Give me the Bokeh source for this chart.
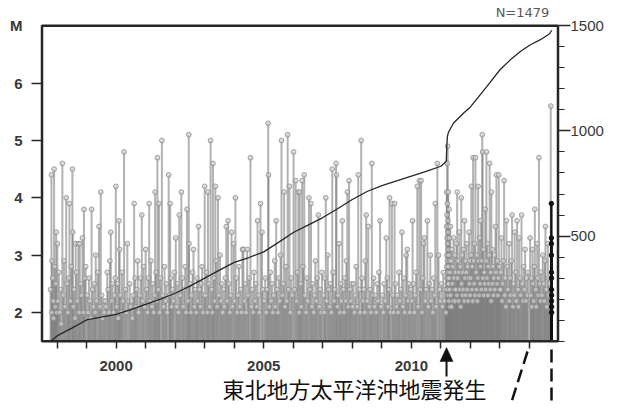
from bokeh.plotting import figure
from bokeh.models import Range1d, LinearAxis, FixedTicker, Label, ColumnDataSource
from bokeh.embed import file_html
from bokeh.resources import INLINE

# ---------------- data ----------------
year_ticks = [2000, 2005, 2010]
year_minor = list(range(1998, 2015))
mag_ticks = [2, 3, 4, 5, 6]
count_ticks = [500, 1000, 1500]
count_minor = list(range(0, 1501, 100))
total_n = 1479
quake_t = 2011.19
quake_text = "東北地方太平洋沖地震発生"

# cumulative number of events (right axis)
cum_t = [1997.78, 1998.0, 1998.5, 1999.0, 1999.5, 2000.0, 2000.5, 2001.0, 2001.5, 2002.0,
         2002.5, 2003.0, 2003.5, 2004.0, 2004.5, 2005.0, 2005.5, 2006.0, 2006.5, 2007.0,
         2007.5, 2008.0, 2008.5, 2009.0, 2009.5, 2010.0, 2010.5, 2011.0, 2011.18, 2011.20,
         2011.22, 2011.26, 2011.43, 2011.77, 2012.0, 2012.56, 2013.0, 2013.35, 2013.69,
         2014.03, 2014.37, 2014.68, 2014.75]
cum_n = [0, 25, 62, 101, 115, 128, 150, 175, 200, 228,
         262, 300, 338, 375, 398, 425, 470, 517, 552, 588,
         630, 674, 712, 740, 762, 785, 808, 832, 856, 930,
         975, 995, 1038, 1085, 1114, 1212, 1291, 1338, 1378,
         1410, 1434, 1462, 1479]

# events (decimal year, magnitude)
ev_1997 = [(1997.78, 2.4), (1997.81, 4.4), (1997.82, 2.0), (1997.83, 2.9), (1997.85, 2.6),
           (1997.87, 2.2), (1997.88, 1.9), (1997.90, 4.5), (1997.92, 2.8), (1997.94, 2.1),
           (1997.96, 2.5), (1997.97, 3.4), (1997.99, 2.0)]
ev_1998 = [(1998.01, 3.2), (1998.03, 2.2), (1998.06, 2.7), (1998.09, 2.0), (1998.12, 2.4),
           (1998.14, 1.8), (1998.18, 4.6), (1998.21, 2.3), (1998.24, 2.9), (1998.27, 2.1),
           (1998.31, 4.0), (1998.34, 2.5), (1998.37, 2.0), (1998.40, 2.6), (1998.42, 3.9),
           (1998.45, 2.2), (1998.48, 2.8), (1998.52, 4.5), (1998.53, 3.4), (1998.55, 2.1),
           (1998.58, 2.4), (1998.61, 1.9), (1998.63, 3.2), (1998.66, 2.7), (1998.69, 2.2),
           (1998.72, 3.2), (1998.75, 2.0), (1998.77, 3.2), (1998.80, 2.5), (1998.83, 2.3),
           (1998.86, 3.3), (1998.89, 2.0), (1998.91, 3.8), (1998.94, 2.6), (1998.97, 2.8)]
ev_1999 = [(1999.02, 2.3), (1999.05, 2.0), (1999.08, 2.6), (1999.11, 2.2), (1999.14, 1.9),
           (1999.17, 3.8), (1999.20, 2.4), (1999.23, 2.1), (1999.26, 2.5), (1999.29, 2.0),
           (1999.31, 3.0), (1999.34, 2.2), (1999.38, 2.7), (1999.42, 3.5), (1999.45, 2.1),
           (1999.48, 4.1), (1999.51, 2.3), (1999.54, 1.9), (1999.57, 2.2), (1999.60, 2.0),
           (1999.63, 2.2), (1999.66, 2.1), (1999.70, 2.7), (1999.73, 2.4), (1999.76, 2.0),
           (1999.79, 2.9), (1999.82, 3.4), (1999.85, 2.2), (1999.88, 2.5), (1999.91, 2.0),
           (1999.94, 2.3), (1999.97, 2.6), (1999.99, 4.2)]
ev_2000 = [(2000.02, 2.1), (2000.05, 2.5), (2000.07, 1.9), (2000.10, 3.6), (2000.12, 3.1),
           (2000.14, 2.3), (2000.17, 2.0), (2000.20, 2.7), (2000.23, 2.2), (2000.27, 4.8),
           (2000.31, 2.4), (2000.34, 2.0), (2000.38, 3.2), (2000.42, 2.2), (2000.46, 2.5),
           (2000.49, 2.1), (2000.52, 2.2), (2000.55, 1.9), (2000.58, 2.3), (2000.61, 3.9),
           (2000.64, 2.6), (2000.67, 2.1), (2000.70, 2.4), (2000.73, 2.9), (2000.76, 2.0),
           (2000.80, 2.3), (2000.83, 2.6), (2000.87, 3.7), (2000.90, 2.2), (2000.93, 2.8),
           (2000.96, 2.1)]
ev_2001 = [(2001.00, 3.1), (2001.03, 2.4), (2001.06, 2.0), (2001.09, 2.6), (2001.12, 3.9),
           (2001.15, 2.2), (2001.18, 2.9), (2001.21, 2.1), (2001.24, 2.5), (2001.27, 2.0),
           (2001.30, 2.3), (2001.32, 4.1), (2001.35, 2.7), (2001.37, 2.2), (2001.40, 4.7),
           (2001.43, 2.4), (2001.45, 3.9), (2001.47, 2.0), (2001.50, 2.6), (2001.55, 5.0),
           (2001.58, 2.3), (2001.61, 2.1), (2001.64, 2.8), (2001.67, 2.2), (2001.70, 2.5),
           (2001.73, 2.0), (2001.78, 4.4), (2001.81, 2.3), (2001.83, 3.9), (2001.85, 2.6),
           (2001.88, 2.1), (2001.91, 2.4), (2001.94, 2.2), (2001.97, 2.7)]
ev_2002 = [(2002.02, 3.3), (2002.05, 2.1), (2002.08, 2.5), (2002.11, 2.0), (2002.14, 3.7),
           (2002.17, 2.3), (2002.21, 4.1), (2002.24, 2.6), (2002.27, 2.1), (2002.30, 2.4),
           (2002.34, 2.8), (2002.37, 2.0), (2002.40, 3.8), (2002.43, 2.2), (2002.46, 5.1),
           (2002.47, 3.2), (2002.50, 2.5), (2002.53, 2.0), (2002.56, 2.3), (2002.59, 2.7),
           (2002.62, 3.1), (2002.65, 2.1), (2002.68, 2.4), (2002.71, 2.0), (2002.74, 2.6),
           (2002.76, 2.2), (2002.79, 3.5), (2002.82, 2.4), (2002.85, 2.1), (2002.88, 2.5),
           (2002.91, 2.8), (2002.94, 2.0), (2002.97, 2.3)]
ev_2003 = [(2003.00, 4.2), (2003.03, 2.3), (2003.06, 2.7), (2003.09, 2.0), (2003.11, 4.1),
           (2003.14, 2.5), (2003.17, 2.1), (2003.20, 5.0), (2003.23, 2.4), (2003.26, 2.0),
           (2003.28, 4.6), (2003.31, 2.6), (2003.33, 2.2), (2003.36, 4.2), (2003.39, 2.9),
           (2003.42, 2.1), (2003.45, 4.0), (2003.48, 2.3), (2003.52, 3.0), (2003.55, 2.2),
           (2003.58, 2.5), (2003.61, 2.0), (2003.64, 2.4), (2003.67, 2.1), (2003.70, 2.6),
           (2003.73, 3.5), (2003.76, 2.2), (2003.79, 3.6), (2003.82, 2.5), (2003.85, 2.0),
           (2003.88, 2.3), (2003.91, 3.4), (2003.94, 2.1), (2003.98, 3.2)]
ev_2004 = [(2004.01, 2.2), (2004.04, 4.0), (2004.07, 2.6), (2004.10, 2.0), (2004.13, 2.3),
           (2004.16, 2.8), (2004.19, 2.1), (2004.22, 2.4), (2004.25, 2.0), (2004.28, 3.1),
           (2004.31, 3.1), (2004.34, 2.2), (2004.37, 2.5), (2004.40, 2.0), (2004.44, 3.1),
           (2004.47, 2.3), (2004.50, 2.6), (2004.55, 4.7), (2004.58, 2.1), (2004.61, 2.4),
           (2004.64, 2.0), (2004.67, 2.7), (2004.70, 2.2), (2004.73, 2.5), (2004.76, 2.1),
           (2004.79, 3.6), (2004.82, 2.3), (2004.85, 2.0), (2004.89, 3.9), (2004.94, 3.4),
           (2004.97, 2.4)]
ev_2005 = [(2005.02, 2.2), (2005.05, 2.6), (2005.08, 2.0), (2005.11, 2.4), (2005.15, 5.3),
           (2005.16, 4.4), (2005.19, 2.1), (2005.22, 2.7), (2005.25, 2.2), (2005.28, 2.5),
           (2005.31, 2.0), (2005.34, 2.3), (2005.37, 2.9), (2005.39, 2.1), (2005.42, 3.6),
           (2005.45, 2.4), (2005.48, 2.0), (2005.51, 2.6), (2005.54, 2.2), (2005.57, 3.0),
           (2005.60, 5.0), (2005.63, 2.3), (2005.66, 2.5), (2005.69, 4.1), (2005.72, 2.1),
           (2005.75, 2.8), (2005.78, 2.2), (2005.81, 5.1), (2005.84, 2.4), (2005.87, 4.2),
           (2005.90, 2.0), (2005.93, 2.6), (2005.96, 2.3)]
ev_2006 = [(2006.01, 4.8), (2006.04, 2.4), (2006.08, 4.3), (2006.11, 2.2), (2006.14, 2.7),
           (2006.17, 4.1), (2006.20, 2.0), (2006.22, 4.1), (2006.25, 2.5), (2006.27, 2.1),
           (2006.30, 4.3), (2006.33, 2.8), (2006.37, 4.4), (2006.40, 2.3), (2006.43, 2.0),
           (2006.46, 2.6), (2006.49, 2.2), (2006.53, 4.0), (2006.56, 2.4), (2006.60, 3.9),
           (2006.63, 2.1), (2006.66, 2.5), (2006.69, 2.0), (2006.72, 2.3), (2006.75, 2.9),
           (2006.78, 2.2), (2006.81, 2.6), (2006.85, 3.7), (2006.88, 2.1), (2006.91, 2.4),
           (2006.94, 2.0), (2006.97, 2.7)]
ev_2007 = [(2007.02, 2.3), (2007.05, 2.0), (2007.07, 2.6), (2007.10, 4.0), (2007.13, 2.2),
           (2007.17, 3.0), (2007.20, 2.4), (2007.23, 2.1), (2007.26, 2.5), (2007.29, 2.0),
           (2007.32, 4.5), (2007.35, 2.7), (2007.38, 2.2), (2007.41, 2.4), (2007.45, 4.6),
           (2007.46, 4.4), (2007.49, 2.1), (2007.52, 2.3), (2007.55, 3.2), (2007.58, 2.0),
           (2007.61, 2.5), (2007.63, 2.2), (2007.66, 3.6), (2007.69, 2.4), (2007.72, 2.0),
           (2007.75, 2.6), (2007.78, 2.2), (2007.80, 2.9), (2007.83, 4.1), (2007.86, 2.1),
           (2007.89, 4.3), (2007.92, 2.4), (2007.95, 2.2), (2007.98, 2.5)]
ev_2008 = [(2008.01, 2.1), (2008.04, 2.5), (2008.07, 2.0), (2008.10, 2.3), (2008.13, 2.8),
           (2008.16, 2.1), (2008.20, 4.4), (2008.23, 2.4), (2008.26, 2.0), (2008.30, 5.0),
           (2008.33, 2.6), (2008.36, 2.2), (2008.39, 2.4), (2008.42, 2.0), (2008.44, 2.9),
           (2008.47, 3.7), (2008.50, 2.2), (2008.54, 3.5), (2008.57, 2.1), (2008.60, 2.4),
           (2008.63, 2.0), (2008.66, 4.6), (2008.69, 2.3), (2008.72, 2.6), (2008.75, 2.1),
           (2008.78, 2.3), (2008.81, 2.0), (2008.84, 2.5), (2008.87, 2.2), (2008.90, 2.7),
           (2008.94, 3.6), (2008.97, 2.1)]
ev_2009 = [(2009.02, 2.3), (2009.05, 2.0), (2009.08, 2.5), (2009.11, 2.2), (2009.15, 3.3),
           (2009.18, 2.6), (2009.21, 2.1), (2009.24, 2.4), (2009.26, 4.0), (2009.29, 2.0),
           (2009.34, 3.9), (2009.37, 2.3), (2009.40, 2.0), (2009.43, 3.9), (2009.46, 2.5),
           (2009.49, 2.1), (2009.52, 2.3), (2009.55, 2.0), (2009.58, 2.7), (2009.61, 2.2),
           (2009.64, 2.4), (2009.68, 3.4), (2009.71, 2.1), (2009.74, 2.6), (2009.77, 2.0),
           (2009.80, 2.3), (2009.82, 3.0), (2009.86, 3.1), (2009.89, 2.2), (2009.92, 2.5),
           (2009.95, 2.0), (2009.98, 2.4)]
ev_2010 = [(2010.01, 2.2), (2010.04, 3.6), (2010.07, 2.5), (2010.10, 2.0), (2010.13, 2.3),
           (2010.16, 2.7), (2010.20, 4.2), (2010.23, 2.1), (2010.27, 4.3), (2010.30, 2.4),
           (2010.33, 4.3), (2010.36, 2.0), (2010.38, 2.6), (2010.41, 3.2), (2010.44, 3.3),
           (2010.47, 2.2), (2010.50, 2.4), (2010.54, 3.6), (2010.57, 2.1), (2010.60, 2.5),
           (2010.64, 3.0), (2010.67, 2.2), (2010.70, 2.4), (2010.73, 2.0), (2010.76, 2.6),
           (2010.79, 2.3), (2010.81, 3.9), (2010.84, 2.1), (2010.88, 4.6), (2010.92, 3.0),
           (2010.95, 2.4), (2010.98, 2.2)]
ev_2011 = [(2011.02, 2.5), (2011.05, 2.1), (2011.08, 2.7), (2011.11, 2.2), (2011.14, 2.4),
           (2011.17, 2.0), (2011.190, 3.5), (2011.193, 2.8), (2011.196, 4.1), (2011.199, 3.0),
           (2011.202, 2.6), (2011.205, 3.7), (2011.208, 2.4), (2011.211, 3.3), (2011.214, 4.6),
           (2011.217, 2.9), (2011.220, 3.9), (2011.223, 2.5), (2011.226, 3.2), (2011.229, 4.9),
           (2011.232, 2.7), (2011.235, 3.4), (2011.238, 2.6), (2011.241, 3.6), (2011.244, 2.3),
           (2011.247, 3.1), (2011.250, 4.1), (2011.254, 2.8), (2011.258, 3.5), (2011.262, 2.5),
           (2011.266, 3.0), (2011.270, 2.2), (2011.275, 3.8), (2011.280, 2.6), (2011.285, 3.3),
           (2011.290, 2.4), (2011.295, 2.9), (2011.300, 2.1), (2011.31, 2.7), (2011.32, 3.5),
           (2011.33, 2.3), (2011.345, 2.9), (2011.36, 2.1), (2011.37, 3.1), (2011.385, 2.5),
           (2011.40, 2.8), (2011.41, 2.2), (2011.43, 3.3), (2011.44, 2.6), (2011.455, 2.4),
           (2011.47, 3.0), (2011.48, 2.2), (2011.495, 2.7), (2011.51, 2.4), (2011.525, 3.2),
           (2011.54, 2.3), (2011.55, 4.1), (2011.565, 2.6), (2011.58, 2.9), (2011.595, 2.2),
           (2011.61, 2.7), (2011.625, 3.4), (2011.64, 2.4), (2011.655, 2.8), (2011.67, 2.1),
           (2011.69, 4.0), (2011.70, 2.5), (2011.715, 3.0), (2011.73, 2.3), (2011.745, 2.7),
           (2011.76, 2.4), (2011.775, 3.1), (2011.79, 2.2), (2011.80, 3.6), (2011.815, 2.6),
           (2011.83, 2.9), (2011.845, 2.3), (2011.86, 2.7), (2011.875, 3.2), (2011.89, 2.4),
           (2011.905, 2.8), (2011.92, 2.2), (2011.935, 2.6), (2011.95, 3.4), (2011.965, 2.5),
           (2011.98, 2.9), (2011.99, 2.3)]
ev_2012 = [(2012.01, 2.6), (2012.02, 3.0), (2012.03, 4.2), (2012.05, 2.4), (2012.06, 2.8),
           (2012.075, 2.2), (2012.09, 4.7), (2012.11, 2.9), (2012.125, 2.5), (2012.14, 3.2),
           (2012.155, 2.3), (2012.17, 4.7), (2012.19, 2.7), (2012.205, 2.4), (2012.22, 3.0),
           (2012.235, 2.2), (2012.25, 2.6), (2012.26, 4.2), (2012.28, 2.9), (2012.295, 2.3),
           (2012.31, 3.3), (2012.325, 2.5), (2012.34, 2.8), (2012.35, 3.6), (2012.37, 2.4),
           (2012.385, 2.9), (2012.40, 5.1), (2012.41, 4.8), (2012.42, 2.6), (2012.435, 3.1),
           (2012.45, 2.3), (2012.465, 2.7), (2012.48, 2.5), (2012.50, 3.8), (2012.515, 2.4),
           (2012.53, 2.9), (2012.54, 4.8), (2012.56, 2.6), (2012.575, 3.2), (2012.59, 2.3),
           (2012.605, 2.8), (2012.62, 2.5), (2012.635, 3.0), (2012.65, 4.6), (2012.67, 2.4),
           (2012.685, 2.7), (2012.70, 2.2), (2012.71, 4.1), (2012.73, 3.1), (2012.745, 2.5),
           (2012.76, 2.8), (2012.775, 2.3), (2012.79, 2.6), (2012.81, 3.0), (2012.825, 2.4),
           (2012.85, 3.5), (2012.865, 2.7), (2012.88, 4.4), (2012.90, 2.5), (2012.915, 2.9),
           (2012.93, 2.3), (2012.945, 2.6), (2012.96, 4.4), (2012.975, 2.8), (2012.99, 2.4)]
ev_2013 = [(2013.01, 2.4), (2013.03, 2.7), (2013.05, 3.3), (2013.07, 2.2), (2013.09, 2.5),
           (2013.11, 2.9), (2013.14, 4.3), (2013.16, 2.3), (2013.18, 2.6), (2013.20, 2.1),
           (2013.22, 3.6), (2013.25, 2.8), (2013.27, 2.4), (2013.31, 3.2), (2013.32, 2.2),
           (2013.34, 2.6), (2013.36, 2.3), (2013.38, 2.9), (2013.41, 3.7), (2013.44, 2.1),
           (2013.46, 2.5), (2013.48, 2.3), (2013.50, 3.4), (2013.53, 2.7), (2013.55, 2.2),
           (2013.58, 3.6), (2013.61, 2.4), (2013.63, 2.1), (2013.65, 3.3), (2013.68, 2.6),
           (2013.70, 2.3), (2013.73, 3.7), (2013.76, 2.5), (2013.78, 2.2), (2013.80, 2.8),
           (2013.83, 2.4), (2013.85, 3.1), (2013.88, 2.2), (2013.90, 2.6), (2013.93, 2.3),
           (2013.95, 2.7)]
ev_2014 = [(2014.02, 3.3), (2014.04, 2.3), (2014.06, 2.6), (2014.08, 2.1), (2014.10, 3.1),
           (2014.12, 2.5), (2014.14, 2.2), (2014.16, 2.8), (2014.18, 3.8), (2014.21, 2.4),
           (2014.23, 2.1), (2014.26, 3.2), (2014.28, 2.6), (2014.30, 2.3), (2014.32, 4.7),
           (2014.35, 2.5), (2014.37, 2.2), (2014.39, 2.7), (2014.42, 2.3), (2014.45, 3.0),
           (2014.48, 2.5), (2014.50, 2.2), (2014.52, 2.9), (2014.54, 3.5), (2014.57, 2.4),
           (2014.59, 2.1), (2014.62, 3.2), (2014.64, 2.6), (2014.66, 2.3), (2014.68, 2.5),
           (2014.70, 2.2), (2014.72, 5.6)]
# most recent events (drawn in black)
latest_t = [2014.740, 2014.741, 2014.742, 2014.743, 2014.744, 2014.745,
            2014.746, 2014.747, 2014.748, 2014.749, 2014.750]
latest_m = [3.9, 3.3, 3.2, 3.0, 2.7, 2.6, 2.4, 2.3, 2.2, 2.1, 2.0]

events = (ev_1997 + ev_1998 + ev_1999 + ev_2000 + ev_2001 + ev_2002 + ev_2003 + ev_2004 +
          ev_2005 + ev_2006 + ev_2007 + ev_2008 + ev_2009 + ev_2010 + ev_2011 + ev_2012 +
          ev_2013 + ev_2014)
ev_t = [e[0] for e in events]
ev_m = [e[1] for e in events]

# ---------------- layout (canvas pixels) ----------------
W, H = 613, 402
FL, FR, FT, FB = 38, 561, 4, 402            # plotting frame
BL, BR, BT, BB = 41.5, 557.5, 25.3, 340.7   # drawn chart box
X0, X1 = 1997.49, 2014.965                  # time span of the box
Y0, Y1 = 1.5, 7.0                           # magnitude span of the box
N0, N1 = 0, 1500                            # count span of the box
AX = "#262626"
LBL = "#383838"

ppx = (BR - BL) / (X1 - X0)
ppy = (BB - BT) / (Y1 - Y0)
ppn = (BB - BT) / (N1 - N0)
x_lo, x_hi = X0 - (BL - FL) / ppx, X1 + (FR - BR) / ppx
y_lo, y_hi = Y0 - (FB - BB) / ppy, Y1 + (BT - FT) / ppy
n_lo, n_hi = N0 - (FB - BB) / ppn, N1 + (BT - FT) / ppn


def xd(px):
    return x_lo + (px - FL) / ppx


def yd(py):
    return y_hi - (py - FT) / ppy


p = figure(width=W, height=H, x_range=Range1d(x_lo, x_hi), y_range=Range1d(y_lo, y_hi),
           x_axis_location="above", output_backend="svg", toolbar_location=None,
           min_border_left=FL, min_border_right=W - FR,
           min_border_top=FT, min_border_bottom=H - FB)
p.xgrid.visible = False
p.ygrid.visible = False
p.outline_line_color = None
p.background_fill_color = "white"
p.border_fill_color = "white"

# time axis drawn at the bottom of the box (year ticks)
xa = p.xaxis[0]
xa.fixed_location = Y0
xa.ticker = FixedTicker(ticks=[], minor_ticks=year_minor)
xa.axis_line_color = None
xa.major_tick_out = 0
xa.major_tick_in = 0
xa.minor_tick_out = 0
xa.minor_tick_in = 7
xa.minor_tick_line_color = AX
xa.minor_tick_line_width = 1.5
xa.major_label_standoff = 0

# left magnitude axis ("M" as the label at the top)
ya = p.yaxis[0]
ya.ticker = FixedTicker(ticks=mag_ticks + [Y1], minor_ticks=mag_ticks)
ya.major_label_overrides = {Y1: "M"}
ya.axis_line_color = None
ya.major_tick_out = 0
ya.major_tick_in = 0
ya.minor_tick_out = 7
ya.minor_tick_in = 4
ya.minor_tick_line_color = AX
ya.minor_tick_line_width = 1.5
ya.major_label_standoff = 9
ya.major_label_text_font = "Liberation Sans"
ya.major_label_text_font_size = "15px"
ya.major_label_text_font_style = "bold"
ya.major_label_text_color = LBL

# right axis (cumulative count)
p.extra_y_ranges = {"n": Range1d(n_lo, n_hi)}
ra = LinearAxis(y_range_name="n", ticker=FixedTicker(ticks=count_ticks, minor_ticks=count_minor))
ra.axis_line_color = None
ra.major_tick_out = 9
ra.major_tick_in = 3
ra.minor_tick_out = 3
ra.minor_tick_in = 3
ra.major_tick_line_color = AX
ra.minor_tick_line_color = AX
ra.major_tick_line_width = 1.5
ra.minor_tick_line_width = 1.2
ra.major_label_standoff = 0
ra.major_label_text_font = "Liberation Sans"
ra.major_label_text_font_size = "15px"
ra.major_label_text_color = LBL
p.add_layout(ra, "right")

# stems and their heads
src = ColumnDataSource(dict(t=ev_t, m=ev_m))
p.segment(x0="t", y0=Y0, x1="t", y1="m", source=src,
          line_color="#7f7f7f", line_alpha=0.6, line_width=2)
p.scatter("t", "m", source=src, size=4.8, fill_color="#d0d0d0", fill_alpha=0.7,
          line_color="#8c8c8c", line_width=0.8)

# latest events in black
lsrc = ColumnDataSource(dict(t=latest_t, m=latest_m))
p.segment(x0="t", y0=Y0, x1="t", y1="m", source=lsrc, line_color="#111111", line_width=2.4)
p.scatter("t", "m", source=lsrc, size=4.5, fill_color="#111111", line_color="#111111")

# cumulative curve
p.line(cum_t, cum_n, y_range_name="n", line_color="#262626", line_width=1.3)

# chart box
p.quad(left=[X0], right=[X1], bottom=[Y0], top=[Y1], fill_color=None,
       line_color=AX, line_width=2.5)

# year labels below the box
for yr in year_ticks:
    p.add_layout(Label(x=yr, y=yd(365), text=str(yr), text_align="center",
                       text_baseline="middle", text_font="Liberation Sans",
                       text_font_size="15px", text_font_style="bold", text_color=LBL))

# N label
p.add_layout(Label(x=xd(522), y=yd(11.5), text=f"N={total_n}", text_align="center",
                   text_baseline="middle", text_font="DejaVu Sans",
                   text_font_size="13px", text_color="#5a5a5a"))

# quake annotation: arrow and text
p.segment(x0=[quake_t], y0=[yd(376)], x1=[quake_t], y1=[yd(358)],
          line_color="#111111", line_width=2)
p.patch(x=[quake_t - 6.5 / ppx, quake_t + 6.5 / ppx, quake_t],
        y=[yd(361), yd(361), yd(347)], fill_color="#111111", line_color="#111111",
        line_width=0.5)
p.add_layout(Label(x=xd(354), y=yd(387), text=quake_text, text_align="center",
                   text_baseline="middle", text_font="Noto Sans CJK JP",
                   text_font_size="22px", text_color="#111111"))

# dashed leader lines
p.line(x=[latest_t[5], latest_t[5]], y=[yd(349), yd(412)], line_color="#111111",
       line_width=2.5, line_dash="13 6")
p.line(x=[xd(527), xd(508)], y=[yd(351), yd(411)], line_color="#111111",
       line_width=2.5, line_dash="13 6")

open("out.html", "w").write(file_html(p, INLINE))
